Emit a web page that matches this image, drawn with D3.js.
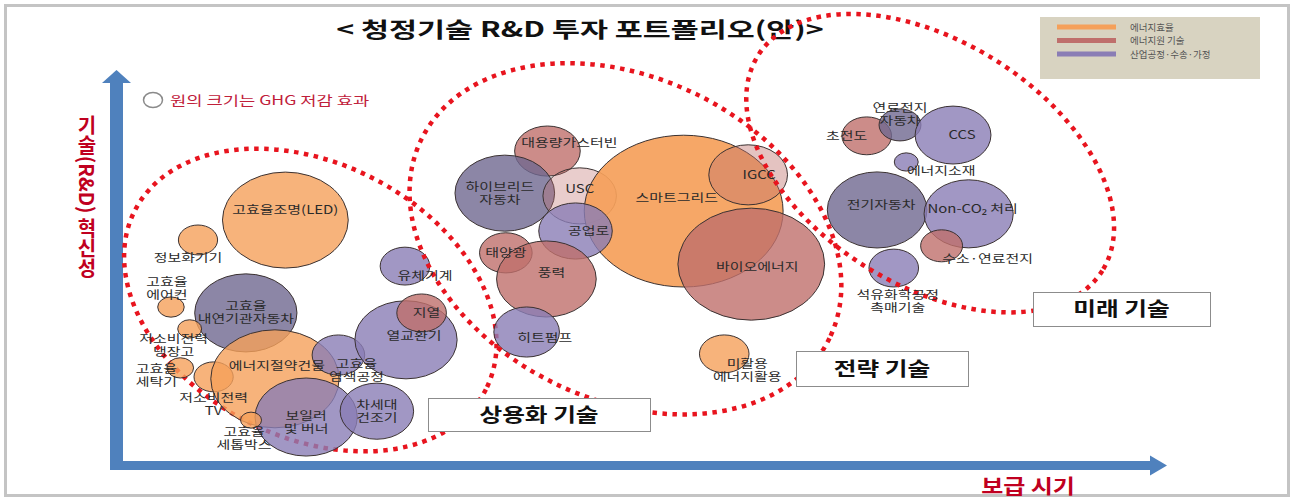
<!DOCTYPE html>
<html>
<head>
<meta charset="utf-8">
<script src="https://cdn.jsdelivr.net/npm/d3@7/dist/d3.min.js"></script>
<style>
  body { margin: 0; background: #fff; }
  svg { display: block; font-family: "Noto Sans CJK KR", "Noto Sans", sans-serif; }
</style>
</head>
<body>
<svg id="chart"></svg>
<script>
// 기술 이름 (\n = 줄바꿈)
var names = ['고효율조명(LED)', '정보화기기', '고효율\n에어컨', '고효율\n내연기관자동차', '저소비전력\n냉장고',
  '고효율\n세탁기', '저소비전력\nTV', '에너지절약건물', '고효율\n염색공정', '열교환기', '지열', '유체기계',
  '보일러\n및 버너', '차세대\n건조기', '고효율\n세톱박스', '대용량가스터빈', '하이브리드\n자동차', 'USC',
  '스마트그리드', 'IGCC', '공업로', '태양광', '풍력', '바이오에너지', '히트펌프', '미활용\n에너지활용',
  '초전도', '연료전지\n자동차', 'CCS', '에너지소재', '전기자동차', 'Non-CO₂ 처리', '수소·연료전지',
  '석유화학공정\n촉매기술'];
// 보급 시기 (0 = 현재 ~ 100 = 먼 미래)
var spread = [15.9, 7.5, 4.9, 12.1, 6.7, 5.8, 9.0, 14.9, 21.0, 27.5, 29.0, 27.4, 17.9, 24.7, 12.6,
  41.1, 37.0, 44.2, 54.2, 60.4, 43.8, 37.1, 41.0, 60.7, 39.1, 58.1,
  71.8, 75.0, 80.1, 75.6, 72.8, 81.6, 79.0, 74.4];
// 기술(R&D) 혁신성
var innovation = [62.8, 57.7, 40.5, 39.0, 34.9, 24.9, 22.6, 22.1, 28.2, 32.1, 39.0, 51.0, 12.3, 13.8, 11.5,
  80.5, 69.7, 69.0, 65.1, 74.4, 60.0, 54.4, 47.7, 51.5, 34.1, 28.5,
  84.4, 87.2, 84.6, 77.7, 65.4, 64.4, 56.2, 50.5];
// GHG 저감 효과 (원의 크기)
var ghg = [36, 3.5, 1.6, 23.8, 1.3, 1.6, 3.5, 37.5, 6.3, 23.8, 5.6, 5.6, 23.8, 12.3, 1.0,
  9.8, 22.6, 12.3, 90, 14.1, 12.3, 6.3, 22.6, 49, 9.8, 5.6,
  5.6, 4.0, 13.1, 1.3, 22.6, 18.1, 4.0, 5.6];
// 0 에너지효율, 1 에너지원 기술, 2 산업공정·수송·가정
var group = [0, 0, 0, 2, 0, 0, 0, 0, 2, 2, 1, 2, 2, 2, 0,
  1, 2, 1, 0, 1, 2, 1, 1, 1, 2, 0,
  1, 2, 2, 2, 2, 2, 1, 2];
var groupNames = ['에너지효율', '에너지원 기술', '산업공정·수송·가정'];
var zoneNames = ['상용화 기술', '전략 기술', '미래 기술'];

var width = 1294, height = 500;
var svg = d3.select('#chart').attr('width', width).attr('height', height);

var xScale = d3.scaleLinear().domain([0, 100]).range([120, 1160]);
var yScale = d3.scaleLinear().domain([0, 100]).range([465, 75]);
var rScale = d3.scaleSqrt().domain([0, 100]).range([0, 80]);
var stretch = 1.31;   // 원본 그림이 가로로 늘어나 있음

var groupColor = ['#f5a05a', '#bf6f6c', '#8a7db5'];
// 일부 원은 더 진하거나 연함
var shade = { '고효율\n내연기관자동차': '#6f6890', '하이브리드\n자동차': '#6f6890', '전기자동차': '#6f6890',
  '연료전지\n자동차': '#6f6890' };
var fade = { 'USC': 0.35, 'IGCC': 0.42, '스마트그리드': 0.92 };
// 라벨 위치 (원 중심 기준)
var labelShift = {
  '고효율조명(LED)': [0, -10], '정보화기기': [-10, 18], '고효율\n에어컨': [-4, -19],
  '저소비전력\n냉장고': [-16, 17], '고효율\n세탁기': [-24, 8], '저소비전력\nTV': [0, 28],
  '에너지절약건물': [2, -13], '고효율\n염색공정': [18, 15], '열교환기': [8, -4], '지열': [5, 0],
  '유체기계': [20, 10], '보일러\n및 버너': [0, 5], '고효율\n세톱박스': [-7, 18],
  '대용량가스터빈': [22, -8], '하이브리드\n자동차': [-5, 0], 'USC': [0, -7], '스마트그리드': [-7, -13],
  'IGCC': [11, 0], '공업로': [13, 0], '풍력': [5, -6], '바이오에너지': [6, 3], '히트펌프': [18, 6],
  '미활용\n에너지활용': [23, 17], '초전도': [-20, 0], '연료전지\n자동차': [0, -10], 'CCS': [9, 0],
  '에너지소재': [35, 9], '전기자동차': [4, -5], 'Non-CO₂ 처리': [4, -5], '수소·연료전지': [46, 13],
  '석유화학공정\n촉매기술': [4, 33]
};
// 점선 영역 (중심은 데이터 단위)
var zones = [
  { cx: 18.3, cy: 42.3, rx: 197, ry: 137, rot: 27, top: false },
  { cx: 48.6, cy: 58.0, rx: 227, ry: 161, rot: 26, top: true },
  { cx: 77.9, cy: 77.4, rx: 203, ry: 122, rot: 32, top: true }
];

var data = names.map(function (n, i) {
  return { name: n, x: spread[i], y: innovation[i], size: ghg[i], g: group[i] };
});

function wideText(sel, x, y, sx) {
  return sel.attr('transform', 'translate(' + x + ',' + y + ') scale(' + sx + ',1)');
}

// 바깥 테두리
svg.append('rect').attr('x', 5.5).attr('y', 5.5).attr('width', 1283).attr('height', 490)
  .attr('fill', '#fff').attr('stroke', '#c4c4c4').attr('stroke-width', 3);

// 제목
wideText(svg.append('text'), 580, 37, 1.45)
  .attr('text-anchor', 'middle').style('font-size', '21px').style('font-weight', 'bold')
  .attr('fill', '#111').text('< 청정기술 R&D 투자 포트폴리오(안)>');

// 축 화살표
var x0 = xScale(0), y0 = yScale(0), yTop = yScale.range()[1], xEnd = xScale.range()[1];
var axisColor = '#4f81bd';
svg.append('rect').attr('x', x0 - 10).attr('y', yTop + 7).attr('width', 13).attr('height', y0 + 5 - yTop - 7)
  .attr('fill', axisColor);
svg.append('path').attr('d', d3.line()([[x0 - 18, yTop + 8], [x0 + 11, yTop + 8], [x0 - 3.5, yTop - 5]]) + 'Z')
  .attr('fill', axisColor);
svg.append('rect').attr('x', x0 - 10).attr('y', y0 - 4).attr('width', xEnd - 10 - x0 + 10).attr('height', 9)
  .attr('fill', axisColor);
svg.append('path').attr('d', d3.line()([[xEnd - 10, y0 - 9.5], [xEnd - 10, y0 + 10.5], [xEnd + 7, y0 + 0.5]]) + 'Z')
  .attr('fill', axisColor);

// 축 제목
svg.append('text').attr('x', 87).attr('y', 197).attr('text-anchor', 'middle')
  .style('writing-mode', 'vertical-rl').style('font-size', '20px').style('font-weight', 'bold')
  .attr('fill', '#c00020').text('기술(R&D) 혁신성');
wideText(svg.append('text'), 1028, 494, 1.2).attr('text-anchor', 'middle')
  .style('font-size', '20px').style('font-weight', 'bold').attr('fill', '#c00020').text('보급 시기');

// 원 크기 안내
svg.append('ellipse').attr('cx', 153).attr('cy', 100).attr('rx', 9.5).attr('ry', 7.5)
  .attr('fill', '#fff').attr('stroke', '#8a8a8a').attr('stroke-width', 1.5);
wideText(svg.append('text'), 170, 104.5, 1.36).style('font-size', '13px').attr('fill', '#c0203a')
  .text('원의 크기는 GHG 저감 효과');

// 범례
var legend = svg.append('g');
legend.append('rect').attr('x', 1040).attr('y', 17).attr('width', 220).attr('height', 62).attr('fill', '#d8d3c1');
groupNames.forEach(function (g, i) {
  var ly = 27 + i * 13.5;
  legend.append('line').attr('x1', 1057).attr('x2', 1116).attr('y1', ly).attr('y2', ly)
    .attr('stroke', groupColor[i]).attr('stroke-width', 5);
  legend.append('text').attr('x', 1130).attr('y', ly + 3.5).style('font-size', '9.5px').attr('fill', '#555').text(g);
});

function drawZones(onTop) {
  svg.append('g').selectAll('ellipse').data(zones.filter(function (z) { return z.top === onTop; }))
    .join('ellipse')
    .attr('transform', function (z) { return 'translate(' + xScale(z.cx) + ',' + yScale(z.cy) + ') rotate(' + z.rot + ')'; })
    .attr('rx', function (z) { return z.rx; }).attr('ry', function (z) { return z.ry; })
    .attr('fill', 'none').attr('stroke', '#e8141e').attr('stroke-width', 4.5)
    .attr('stroke-dasharray', '4.5 5.5');
}

drawZones(false);

// 원
svg.append('g').selectAll('ellipse').data(data).join('ellipse')
  .attr('cx', function (d) { return xScale(d.x); })
  .attr('cy', function (d) { return yScale(d.y); })
  .attr('rx', function (d) { return rScale(d.size) * stretch; })
  .attr('ry', function (d) { return rScale(d.size); })
  .attr('fill', function (d) { return shade[d.name] || groupColor[d.g]; })
  .attr('fill-opacity', function (d) { return fade[d.name] || 0.8; })
  .attr('stroke', '#3b3232').attr('stroke-width', 1);

drawZones(true);

// 라벨
var labels = svg.append('g');
data.forEach(function (d) {
  var s = labelShift[d.name] || [0, 0];
  var lines = d.name.split('\n');
  var cx = xScale(d.x) + s[0], cy = yScale(d.y) + s[1];
  lines.forEach(function (line, k) {
    var ly = cy + (k - (lines.length - 1) / 2) * 13 + 4;
    wideText(labels.append('text'), cx, ly, 1.3).attr('text-anchor', 'middle')
      .style('font-size', '11.5px').attr('fill', '#2a2a2a').text(line);
  });
});

// 영역 이름 상자
var boxes = [[428, 398, 222, 33], [796, 351, 172, 35], [1033, 292, 177, 34]];
zoneNames.forEach(function (z, i) {
  var b = boxes[i];
  svg.append('rect').attr('x', b[0] + 0.5).attr('y', b[1] + 0.5).attr('width', b[2]).attr('height', b[3])
    .attr('fill', '#fff').attr('stroke', '#8c8c8c').attr('stroke-width', 1);
  wideText(svg.append('text'), b[0] + b[2] / 2, b[1] + b[3] / 2 + 7, 1.3).attr('text-anchor', 'middle')
    .style('font-size', '19px').style('font-weight', 'bold').attr('fill', '#111').text(z);
});
</script>
</body>
</html>
